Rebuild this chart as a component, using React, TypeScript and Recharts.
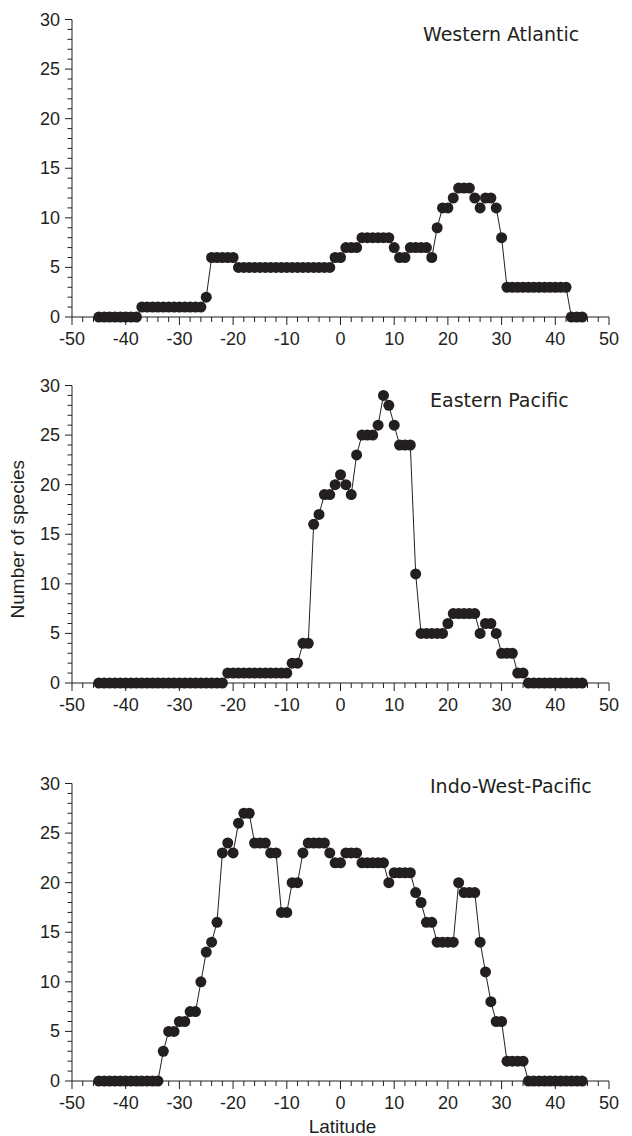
import React from "react";
import { LineChart, Line, XAxis, YAxis } from "recharts";

const latitudes = [
  -45, -44, -43, -42, -41, -40, -39, -38, -37, -36,
  -35, -34, -33, -32, -31, -30, -29, -28, -27, -26,
  -25, -24, -23, -22, -21, -20, -19, -18, -17, -16,
  -15, -14, -13, -12, -11, -10, -9, -8, -7, -6,
  -5, -4, -3, -2, -1, 0, 1, 2, 3, 4,
  5, 6, 7, 8, 9, 10, 11, 12, 13, 14,
  15, 16, 17, 18, 19, 20, 21, 22, 23, 24,
  25, 26, 27, 28, 29, 30, 31, 32, 33, 34,
  35, 36, 37, 38, 39, 40, 41, 42, 43, 44,
  45,
];

// species counts per degree of latitude, -45 .. 45
const westernAtlantic = [
  0, 0, 0, 0, 0, 0, 0, 0, 1, 1,
  1, 1, 1, 1, 1, 1, 1, 1, 1, 1,
  2, 6, 6, 6, 6, 6, 5, 5, 5, 5,
  5, 5, 5, 5, 5, 5, 5, 5, 5, 5,
  5, 5, 5, 5, 6, 6, 7, 7, 7, 8,
  8, 8, 8, 8, 8, 7, 6, 6, 7, 7,
  7, 7, 6, 9, 11, 11, 12, 13, 13, 13,
  12, 11, 12, 12, 11, 8, 3, 3, 3, 3,
  3, 3, 3, 3, 3, 3, 3, 3, 0, 0,
  0,
];

const easternPacific = [
  0, 0, 0, 0, 0, 0, 0, 0, 0, 0,
  0, 0, 0, 0, 0, 0, 0, 0, 0, 0,
  0, 0, 0, 0, 1, 1, 1, 1, 1, 1,
  1, 1, 1, 1, 1, 1, 2, 2, 4, 4,
  16, 17, 19, 19, 20, 21, 20, 19, 23, 25,
  25, 25, 26, 29, 28, 26, 24, 24, 24, 11,
  5, 5, 5, 5, 5, 6, 7, 7, 7, 7,
  7, 5, 6, 6, 5, 3, 3, 3, 1, 1,
  0, 0, 0, 0, 0, 0, 0, 0, 0, 0,
  0,
];

const indoWestPacific = [
  0, 0, 0, 0, 0, 0, 0, 0, 0, 0,
  0, 0, 3, 5, 5, 6, 6, 7, 7, 10,
  13, 14, 16, 23, 24, 23, 26, 27, 27, 24,
  24, 24, 23, 23, 17, 17, 20, 20, 23, 24,
  24, 24, 24, 23, 22, 22, 23, 23, 23, 22,
  22, 22, 22, 22, 20, 21, 21, 21, 21, 19,
  18, 16, 16, 14, 14, 14, 14, 20, 19, 19,
  19, 14, 11, 8, 6, 6, 2, 2, 2, 2,
  0, 0, 0, 0, 0, 0, 0, 0, 0, 0,
  0,
];

const xTicks = [
  -50, -48, -46, -44, -42, -40, -38, -36, -34, -32,
  -30, -28, -26, -24, -22, -20, -18, -16, -14, -12,
  -10, -8, -6, -4, -2, 0, 2, 4, 6, 8,
  10, 12, 14, 16, 18, 20, 22, 24, 26, 28,
  30, 32, 34, 36, 38, 40, 42, 44, 46, 48, 50,
];

const yTicks = [
  0, 1, 2, 3, 4, 5, 6, 7, 8, 9, 10, 11, 12, 13, 14, 15,
  16, 17, 18, 19, 20, 21, 22, 23, 24, 25, 26, 27, 28, 29, 30,
];

const panelTitles = ["Western Atlantic", "Eastern Pacific", "Indo-West-Pacific"];

const INK = "#231f20";
const SANS = "'Liberation Sans', Arial, Helvetica, sans-serif";

const XTick = (props: any) => {
  const { x, y, payload } = props;
  const v = payload.value;
  const major = v % 10 === 0;
  return (
    <g>
      <line x1={x} y1={y} x2={x} y2={y + (major ? 8 : 5)} stroke={INK} />
      {major && (
        <text x={x} y={y + 28} textAnchor="middle" fontSize={18} fontFamily={SANS} fill={INK}>
          {v}
        </text>
      )}
    </g>
  );
};

const YTick = (props: any) => {
  const { x, y, payload } = props;
  const v = payload.value;
  const major = v % 5 === 0;
  return (
    <g>
      <line x1={x - (major ? 7 : 4.5)} y1={y} x2={x} y2={y} stroke={INK} />
      {major && (
        <text x={x - 12} y={y + 6} textAnchor="end" fontSize={18} fontFamily={SANS} fill={INK}>
          {v}
        </text>
      )}
    </g>
  );
};

const latLabel = (p: any) => {
  const vb = p.viewBox;
  return (
    <text x={vb.x + vb.width / 2 + 2} y={vb.y + 52} textAnchor="middle" fontSize={19} fontFamily={SANS} fill={INK}>
      Latitude
    </text>
  );
};

const speciesLabel = (p: any) => {
  const vb = p.viewBox;
  const cx = vb.x + 12;
  const cy = vb.y + vb.height / 2 + 5;
  return (
    <text
      x={cx}
      y={cy}
      transform={`rotate(-90, ${cx}, ${cy})`}
      textAnchor="middle"
      fontSize={19}
      fontFamily={SANS}
      fill={INK}
    >
      Number of species
    </text>
  );
};

type PanelProps = {
  values: number[];
  top: number;
  height: number;
  showX?: boolean;
  showY?: boolean;
};

const Panel = ({ values, top, height, showX, showY }: PanelProps) => {
  const data = latitudes.map((lat, i) => ({ lat, n: values[i] }));
  return (
    <div style={{ position: "absolute", left: 0, top, width: 632, height }}>
      <LineChart
        width={632}
        height={height}
        data={data}
        margin={{ top: 19.5, right: 23, bottom: 3, left: 12 }}
      >
        <XAxis
          type="number"
          dataKey="lat"
          domain={[-50, 50]}
          ticks={xTicks}
          interval={0}
          tick={XTick}
          tickLine={false}
          tickSize={0}
          tickMargin={0}
          axisLine={{ stroke: INK }}
          height={height - 19.5 - 297.5 - 3}
          label={showX ? latLabel : undefined}
        />
        <YAxis
          type="number"
          domain={[0, 30]}
          ticks={yTicks}
          interval={0}
          tick={YTick}
          tickLine={false}
          tickSize={0}
          tickMargin={0}
          width={60}
          axisLine={{ stroke: INK }}
          label={showY ? speciesLabel : undefined}
        />
        <Line
          dataKey="n"
          stroke={INK}
          strokeWidth={1}
          dot={{ r: 5.5, fill: INK, stroke: INK, strokeWidth: 0 }}
          activeDot={false}
          isAnimationActive={false}
        />
      </LineChart>
    </div>
  );
};

export default function App() {
  return (
    <div
      style={{
        position: "absolute",
        left: 0,
        top: 0,
        width: 632,
        height: 1136,
        background: "#fff",
        overflow: "hidden",
      }}
    >
      <Panel values={westernAtlantic} top={0} height={350} />
      <Panel values={easternPacific} top={366.2} height={350} showY />
      <Panel values={indoWestPacific} top={763.8} height={372} showX />
      <svg
        width={632}
        height={1136}
        style={{ position: "absolute", left: 0, top: 0, pointerEvents: "none" }}
      >
        <g fontFamily="'DejaVu Sans', sans-serif" fontSize={19} fill={INK}>
          <text x={423} y={41}>{panelTitles[0]}</text>
          <text x={430} y={407}>{panelTitles[1]}</text>
          <text x={430} y={793}>{panelTitles[2]}</text>
        </g>
      </svg>
    </div>
  );
}
